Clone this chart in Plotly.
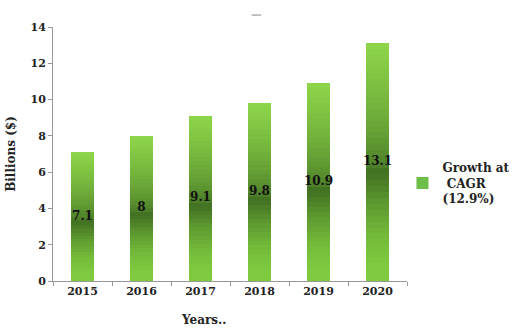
import plotly.graph_objects as go
import numpy as np

years = ["2015", "2016", "2017", "2018", "2019", "2020"]
values = [7.1, 8, 9.1, 9.8, 10.9, 13.1]
labels = ["7.1", "8", "9.1", "9.8", "10.9", "13.1"]
legend_name = "<b>Growth at<br> CAGR<br>(12.9%)</b>"

FONT = "DejaVu Serif"
light_top = np.array([0x8e, 0xd6, 0x4a])
dark_mid = np.array([0x40, 0x6e, 0x22])
light_bot = np.array([0x80, 0xcc, 0x40])

N = 40
fig = go.Figure()
for i in range(N):
    f = (i + 0.5) / N  # fraction from bottom
    mid = 0.46
    if f < mid:
        t = (f / mid)
        c = light_bot + (dark_mid - light_bot) * (t ** 1.8)
    else:
        t = (f - mid) / (1 - mid)
        c = dark_mid + (light_top - dark_mid) * (t ** 0.6)
    col = "rgb(%d,%d,%d)" % tuple(int(v) for v in c)
    fig.add_trace(go.Bar(
        x=years, y=[v / N for v in values],
        marker=dict(color=col, line=dict(width=0)),
        showlegend=False, hoverinfo="skip",
    ))

# legend entry
fig.add_trace(go.Bar(
    x=years, y=[0] * len(years), name=legend_name,
    marker=dict(color="#6cc04a", line=dict(width=0)),
    showlegend=True, hoverinfo="skip",
))

# value labels at mid-height of each bar
fig.add_trace(go.Scatter(
    x=years, y=[v / 2 for v in values], text=["<b>%s</b>" % l for l in labels],
    mode="text", textposition="middle center",
    textfont=dict(family=FONT, size=12, color="#111"),
    showlegend=False, hoverinfo="skip",
))

fig.add_annotation(xref="paper", yref="paper", x=0.425, y=-0.155, text="<b>Years..</b>",
                   showarrow=False, xanchor="center", yanchor="middle",
                   font=dict(family=FONT, size=12, color="#222"))
fig.add_shape(type="line", xref="paper", yref="paper", x0=0.561, x1=0.588, y0=1.047, y1=1.047,
              line=dict(color="#888", width=1))

fig.update_layout(
    barmode="stack",
    bargap=0.6,
    width=514, height=330,
    margin=dict(l=53, r=107, t=27, b=49, autoexpand=False),
    paper_bgcolor="white", plot_bgcolor="white",
    font=dict(family=FONT, size=11, color="#222"),
    legend=dict(xref="container", yref="container", x=0.783, y=0.445,
                xanchor="left", yanchor="middle",
                font=dict(family=FONT, size=12, color="#222"),
                itemwidth=30, tracegroupgap=0, bgcolor="rgba(0,0,0,0)"),
    xaxis=dict(type="category", showline=True, linecolor="#999", linewidth=1,
               ticks="outside", tickson="boundaries", ticklen=4, tickcolor="#999",
               tickfont=dict(family=FONT, size=11, color="#222", weight="bold"),
               showgrid=False),
    yaxis=dict(range=[0, 14], dtick=2, showline=True, linecolor="#999", linewidth=1,
               ticks="outside", ticklen=4, tickcolor="#999", showgrid=False,
               zeroline=False,
               tickfont=dict(family=FONT, size=11, color="#222", weight="bold"),
               title=dict(text="<b>Billions ($)</b>", font=dict(family=FONT, size=12, color="#222"),
                          standoff=12)),
)
fig.write_html("out.html")
